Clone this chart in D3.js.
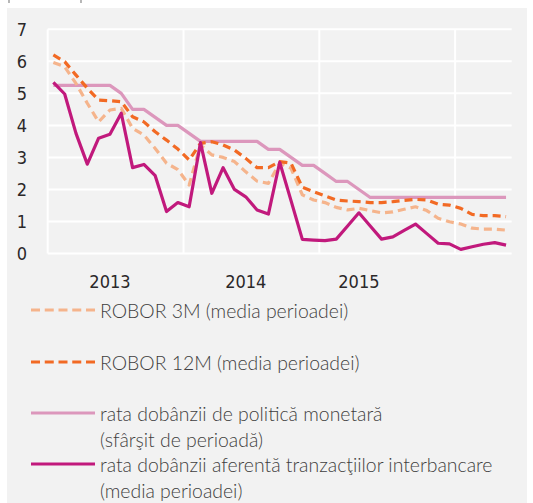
<!DOCTYPE html>
<html>
<head>
<meta charset="utf-8">
<script src="https://cdn.jsdelivr.net/npm/d3@7"></script>
<style>
  body { margin: 0; background: #fff; }
  svg { display: block; }
  .axis-label { font-family: "Liberation Sans Narrow", "DejaVu Sans Condensed", sans-serif; font-size: 18px; fill: #2b2829; }
  .legend-label { font-family: Lato, "Open Sans", sans-serif; font-weight: 300; font-size: 19.4px; fill: #3f3e40; }
</style>
</head>
<body>
<div id="chart"></div>
<script>
// monthly data, Jan 2013 .. May 2016
const robor3m = [5.96, 5.83, 5.31, 4.69, 4.11, 4.48, 4.53, 3.91, 3.70, 3.28, 2.82, 2.62, 2.14, 3.39, 3.08, 3.00, 2.87, 2.55, 2.26, 2.19, 2.82,
  2.66, 1.83, 1.67, 1.59, 1.44, 1.36, 1.41, 1.34, 1.27, 1.30, 1.38, 1.46, 1.34, 1.10, 0.99, 0.92, 0.79, 0.76, 0.76, 0.73];
const robor12m = [6.20, 5.99, 5.57, 5.16, 4.79, 4.77, 4.74, 4.27, 4.11, 3.80, 3.54, 3.26, 2.92, 3.44, 3.49, 3.39, 3.23, 2.97, 2.68, 2.68, 2.87,
  2.82, 2.07, 1.93, 1.80, 1.67, 1.64, 1.62, 1.59, 1.59, 1.62, 1.66, 1.69, 1.67, 1.54, 1.51, 1.41, 1.22, 1.18, 1.18, 1.15];
const policyRate = [5.25, 5.25, 5.25, 5.25, 5.25, 5.25, 5.00, 4.50, 4.50, 4.25, 4.00, 4.00, 3.75, 3.50, 3.50, 3.50, 3.50, 3.50, 3.50, 3.25, 3.25,
  3.00, 2.75, 2.75, 2.50, 2.25, 2.25, 2.00, 1.75, 1.75, 1.75, 1.75, 1.75, 1.75, 1.75, 1.75, 1.75, 1.75, 1.75, 1.75, 1.75];
const interbank = [5.34, 4.98, 3.75, 2.79, 3.60, 3.72, 4.38, 2.68, 2.78, 2.43, 1.31, 1.59, 1.46, 3.46, 1.88, 2.68, 2.00, 1.77, 1.36, 1.23, 2.85,
  1.65, 0.44, 0.42, 0.40, 0.45, 0.86, 1.27, 0.86, 0.45, 0.52, 0.72, 0.92, 0.62, 0.32, 0.30, 0.13, 0.21, 0.29, 0.34, 0.26];

const yTicks = [0, 1, 2, 3, 4, 5, 6, 7];
const yearLabels = ["2013", "2014", "2015"];
const yearLabelIdx = [5, 17, 27];
const yearStartIdx = [0, 12, 24, 36];

const series = [
  { name: "rata dobânzii de politică monetară", name2: "(sfârşit de perioadă)", values: policyRate, color: "#dc97bc", dash: null },
  { name: "ROBOR 3M (media perioadei)", values: robor3m, color: "#f5b48c", dash: "8,5" },
  { name: "ROBOR 12M (media perioadei)", values: robor12m, color: "#f26a24", dash: "8,5" },
  { name: "rata dobânzii aferentă tranzacţiilor interbancare", name2: "(media perioadei)", values: interbank, color: "#c1197c", dash: null }
];
const legendOrder = [1, 2, 0, 3];
const legendY = [310, 362, 413, 464];

const width = 533, height = 503;
const svg = d3.select("#chart").append("svg").attr("width", width).attr("height", height);

svg.append("rect").attr("x", 7).attr("y", 8).attr("width", 520).attr("height", 495).attr("fill", "#f2f2f2");
// cut-off marks above the panel
[9, 81].forEach((x) => {
  svg.append("line").attr("x1", x).attr("x2", x).attr("y1", 0).attr("y2", 3).attr("stroke", "#888").attr("stroke-width", 1.2);
});

const x = d3.scaleBand().domain(d3.range(interbank.length)).range([47.7, 511.7]).padding(0);
const xc = (i) => x(i) + x.bandwidth() / 2;
const y = d3.scaleLinear().domain([0, 7]).range([253.5, 29.3]);

const grid = svg.append("g");
grid.selectAll("line.h").data(yTicks).join("line")
  .attr("x1", 47.7).attr("x2", 511.7)
  .attr("y1", (d) => y(d)).attr("y2", (d) => y(d))
  .attr("stroke", "#fff").attr("stroke-width", 2);
grid.selectAll("line.v").data(yearStartIdx).join("line")
  .attr("x1", (d) => x(d)).attr("x2", (d) => x(d))
  .attr("y1", y(7)).attr("y2", y(0))
  .attr("stroke", "#fff").attr("stroke-width", 2);

svg.append("g").selectAll("text").data(yTicks).join("text")
  .attr("class", "axis-label")
  .attr("x", 27).attr("y", (d) => y(d) + 6.5)
  .attr("text-anchor", "end")
  .text((d) => d);

svg.append("g").selectAll("text").data(yearLabels).join("text")
  .attr("class", "axis-label")
  .attr("x", (d, i) => xc(yearLabelIdx[i])).attr("y", 288)
  .attr("text-anchor", "middle")
  .text((d) => d);

const line = d3.line().x((d, i) => xc(i)).y((d) => y(d));

svg.append("g").selectAll("path").data(series).join("path")
  .attr("d", (d) => line(d.values))
  .attr("fill", "none")
  .attr("stroke", (d) => d.color)
  .attr("stroke-width", 3.2)
  .attr("stroke-dasharray", (d) => d.dash)
  .attr("stroke-linejoin", "round");

const legend = svg.append("g");
legendOrder.forEach((si, k) => {
  const s = series[si];
  const ly = legendY[k];
  legend.append("line")
    .attr("x1", 31).attr("x2", 95).attr("y1", ly).attr("y2", ly)
    .attr("stroke", s.color).attr("stroke-width", 3.2)
    .attr("stroke-dasharray", s.dash ? "9,4.75" : null);
  legend.append("text").attr("class", "legend-label")
    .attr("x", 100).attr("y", ly + 7.5).text(s.name);
  if (s.name2) {
    legend.append("text").attr("class", "legend-label")
      .attr("x", 100).attr("y", ly + 33.5).text(s.name2);
  }
});
</script>
</body>
</html>
